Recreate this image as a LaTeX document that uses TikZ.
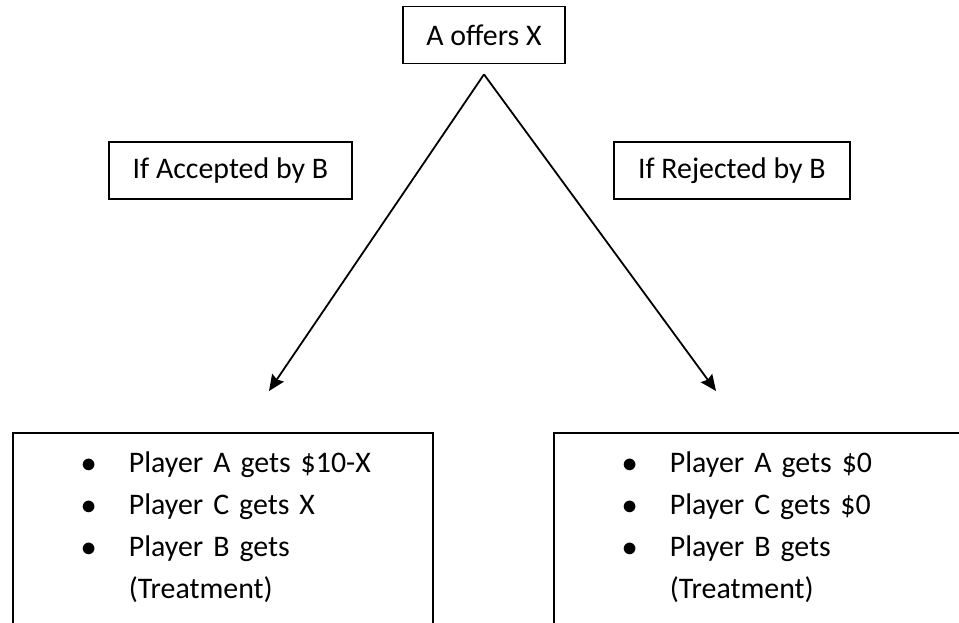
\documentclass[tikz,border=0pt]{standalone}
\usepackage{fontspec}
\setmainfont{Carlito}
\usetikzlibrary{arrows.meta,positioning}

\begin{document}
\begin{tikzpicture}[x=0.02cm,y=-0.02cm,line width=0.036cm,>={Stealth[length=0.32cm,width=0.28cm,inset=0.04cm]},font=\fontsize{17}{23.8}\selectfont,
  main box/.style={draw,rectangle,minimum height=1.14cm,inner xsep=0.44cm},
  pay box/.style={draw,rectangle,anchor=north west,text width=5.64cm,inner xsep=1.38cm,inner ysep=0.4cm,text height=0.4cm,text depth=3.4cm,align=left}]
  \useasboundingbox (0,0) rectangle (959,622);
  \clip (0,0) rectangle (959,622);

  \node[main box,minimum width=3.24cm] (offer) at (484,35) {A offers X};
  \node[main box,anchor=north west,minimum width=4.86cm] (acc) at (108,141) {If Accepted by B};
  \node[main box,anchor=north west,minimum width=4.72cm] (rej) at (613,141) {If Rejected by B};

  \node[pay box] (accpay) at (12,432) {\mbox{\makebox[0.94cm][l]{$\bullet$}Player A gets \$10-X}\\\mbox{\makebox[0.94cm][l]{$\bullet$}Player C gets X}\\\mbox{\makebox[0.94cm][l]{$\bullet$}Player B gets}\\\mbox{\hspace*{0.94cm}(Treatment)}};
  \node[pay box] (rejpay) at (553,432) {\mbox{\makebox[0.94cm][l]{$\bullet$}Player A gets \$0}\\\mbox{\makebox[0.94cm][l]{$\bullet$}Player C gets \$0}\\\mbox{\makebox[0.94cm][l]{$\bullet$}Player B gets}\\\mbox{\hspace*{0.94cm}(Treatment)}};

  \coordinate[below=0.2cm of offer] (apex);
  \coordinate (acctip) at (269,391);
  \coordinate (rejtip) at (716,391);
  \draw[->] (apex) -- (acctip);
  \draw[->] (apex) -- (rejtip);
\end{tikzpicture}
\end{document}
